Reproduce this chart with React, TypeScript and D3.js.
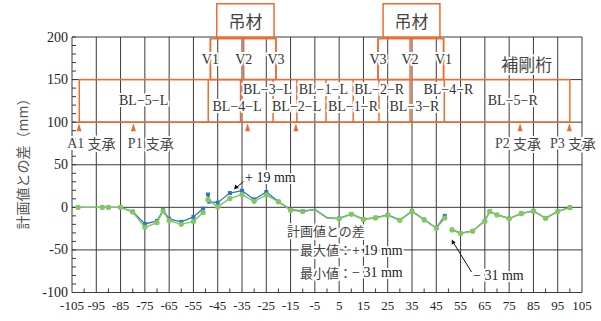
import * as d3 from 'd3';

// stations along bridge axis (m) and deviation from plan (mm)
const stations = [-102.5, -92.5, -90, -85, -80, -75, -70, -67.5, -65, -60, -55, -51,
  -49, -48.5, -45, -40, -35, -30, -25, -20, -15, -10, -5, 0, 5, 10, 15, 20, 25, 30, 35, 40, 45, 48.5,
  51.5, 55, 60, 65, 67, 70, 75, 80, 85, 90, 95, 100];
const greenVals = [0, 0, 0, 0, -5.5, -23.5, -18, -4.5, -15.5, -20, -16.5, -6,
  9, null, 0.5, 10.5, 15, 7, 14.5, 6.5, -3.5, -5, -3, -12.5, -13.5, -8.2, -14.2, -12.5, -9.3, -15.2, -5, -14.8, -24.7, -12.5,
  -26.5, -30.7, -28, -16.2, -5, -9, -13.4, -7.4, -4.5, -12.9, -5, -0.4];
const blueVals = [0, 0, 0, 0, -5, -19.5, -16, -3.3, -13.5, -17, -11.3, -1.5,
  15, 6.7, 5.5, 16.8, 19.5, 9.3, 18, 6.7, -2.5, -4.5, -2.5, -12, -13, -7.8, -13.8, -12, -8.8, -14.8, -4.5, -14.3, -24.2, -10,
  -26.2, -30.4, -27.7, -15.9, -4.7, -8.7, -13.1, -7.1, -4.2, -12.6, -4.7, -0.1];
const segmentBreaks = [-50, 50];
const noMarker = [-5, 0];

const xTicks = [-105, -95, -85, -75, -65, -55, -45, -35, -25, -15, -5, 5, 15, 25, 35, 45, 55, 65, 75, 85, 95, 105];
const yTicks = [200, 150, 100, 50, 0, -50, -100];

// structure diagram (orange)
const hangerBoxes = [[-45.4, -21.8], [23.1, 46.5]];
const vLines = [-48, -34.3, -21, 21, 34.2, 48];
const vLabels = ['V1', 'V2', 'V3', 'V3', 'V2', 'V1'];
const bandEnds = [-102, 100];
const dividers = [-48.9, -35.6, -22.2, -12.4, -0.4, 10.8, 21.4, 34.2, 48.3];
const blNames = ['BL-5-L', 'BL-4-L', 'BL-3-L', 'BL-2-L', 'BL-1-L', 'BL-1-R', 'BL-2-R', 'BL-3-R', 'BL-4-R', 'BL-5-R'];
const blCenters = [-75.5, -37, -24.5, -12.5, -1.5, 10.7, 21.5, 36, 50, 76.5];
const blLevels = [125, 118, 138, 118, 138, 118, 138, 118, 138, 125];
const supportX = [-102.1, -79.7, -32.7, -12.8, 79.5, 99.8];
const supportNames = ['A1 支承', 'P1 支承', 'P2 支承', 'P3 支承'];
const supportLabelX = [-107, -82, 69.2, 91.8];

const ORANGE = '#ef6b2e';
const GREEN = '#82c85a';
const BLUE = '#2f76c4';
const GRID = '#3a3a3a';
const NUM_FONT = '"Liberation Serif", "DejaVu Serif", serif';
const JP_FONT = '"Noto Sans CJK JP", sans-serif';

export default function App() {
  const width = 601;
  const height = 321;
  const x = d3.scaleLinear().domain([-105, 105]).range([72, 582]);
  const y = d3.scaleLinear().domain([-100, 200]).range([292.5, 37]);

  const seg = (s: number) => (s < segmentBreaks[0] ? 0 : s < segmentBreaks[1] ? 1 : 2);
  const series = (vals: (number | null)[]) =>
    [0, 1, 2].map(k =>
      stations
        .map((s, i) => ({ s, v: vals[i] }))
        .filter(d => d.v !== null && seg(d.s) === k) as { s: number; v: number }[]
    );
  const line = d3.line<{ s: number; v: number }>().x(d => x(d.s)).y(d => y(d.v));
  const blueSegs = series(blueVals);
  const greenSegs = series(greenVals);

  const halo = { stroke: '#fff', strokeWidth: 4, paintOrder: 'stroke' as const, strokeLinejoin: 'round' as const };

  return (
    <svg width={width} height={height} style={{ position: 'absolute', left: 0, top: 0, background: '#fff' }}>
      {/* grid */}
      {xTicks.map(t => (
        <line key={'vx' + t} x1={x(t)} x2={x(t)} y1={y(200)} y2={y(-100)} stroke={GRID} strokeWidth={1} />
      ))}
      {yTicks.map(t => (
        <line key={'hy' + t} x1={x(-105)} x2={x(105)} y1={y(t)} y2={y(t)} stroke={GRID} strokeWidth={1} />
      ))}
      {d3.range(-100, 201, 10).map(t => (
        <line key={'my' + t} x1={x(-105)} x2={x(-105) + 4} y1={y(t)} y2={y(t)} stroke={GRID} />
      ))}
      {d3.range(-100, 101, 10).map(t => (
        <line key={'mx' + t} x1={x(t)} x2={x(t)} y1={y(-100)} y2={y(-100) - 4} stroke={GRID} />
      ))}

      {/* tick labels */}
      {yTicks.map(t => (
        <text key={'ly' + t} x={x(-105) - 4} y={y(t)} textAnchor="end" dominantBaseline="central"
          fontFamily={NUM_FONT} fontSize={14} fill="#222">{t}</text>
      ))}
      {xTicks.map(t => (
        <text key={'lx' + t} x={x(t)} y={y(-100) + 17} textAnchor="middle"
          fontFamily={NUM_FONT} fontSize={13} fill="#222">{t}</text>
      ))}
      <text transform={`translate(22,${y(55)}) rotate(-90)`} textAnchor="middle" dominantBaseline="central"
        fontFamily={JP_FONT} fontSize={14} fill="#555">計画値との差（mm）</text>

      {/* hanger boxes */}
      {hangerBoxes.map(([a, b], i) => (
        <g key={'hb' + i}>
          <rect x={x(a)} y={y(239)} width={x(b) - x(a)} height={y(200) - y(239)} fill="#fff" stroke={ORANGE} strokeWidth={1.5} />
          <text x={(x(a) + x(b)) / 2} y={(y(239) + y(200)) / 2} textAnchor="middle" dominantBaseline="central"
            fontFamily={JP_FONT} fontSize={17} fill="#444">吊材</text>
        </g>
      ))}
      {[[0, 2], [3, 5]].map(([a, b], i) => (
        <rect key={'vr' + i} x={x(vLines[a])} y={y(198)} width={x(vLines[b]) - x(vLines[a])} height={y(150) - y(198)}
          fill="none" stroke={ORANGE} strokeWidth={1.5} />
      ))}
      {vLines.map((v, i) => (
        <line key={'vl' + i} x1={x(v)} x2={x(v)} y1={y(198)} y2={y(150)} stroke={ORANGE} strokeWidth={1.5} />
      ))}
      {vLines.map((v, i) => (
        <text key={'vt' + i} x={x(v)} y={y(174)} textAnchor="middle" dominantBaseline="central"
          fontFamily={NUM_FONT} fontSize={14} fill="#333" {...halo}>{vLabels[i]}</text>
      ))}

      {/* girder blocks */}
      <rect x={x(bandEnds[0])} y={y(150)} width={x(bandEnds[1]) - x(bandEnds[0])} height={y(100) - y(150)}
        fill="none" stroke={ORANGE} strokeWidth={1.5} />
      {dividers.map((d, i) => (
        <line key={'dv' + i} x1={x(d)} x2={x(d)} y1={y(150)} y2={y(100)} stroke={ORANGE} strokeWidth={1.5} />
      ))}
      {blNames.map((n, i) => (
        <text key={'bl' + i} x={x(blCenters[i])} y={y(blLevels[i])} textAnchor="middle" dominantBaseline="central"
          fontFamily={NUM_FONT} fontSize={14} fill="#333" {...halo}>{n.replace(/-/g, '−')}</text>
      ))}
      <text x={x(82.3)} y={y(169)} textAnchor="middle" dominantBaseline="central"
        fontFamily={JP_FONT} fontSize={17} fill="#444" {...halo}>補剛桁</text>

      {/* supports */}
      {supportX.map((s, i) => (
        <path key={'sp' + i} d={`M${x(s)},${y(100) + 1}L${x(s) + 2.5},${y(100) + 9}L${x(s) - 2.5},${y(100) + 9}Z`} fill={ORANGE} />
      ))}
      {supportNames.map((n, i) => (
        <text key={'sn' + i} x={x(supportLabelX[i])} y={y(75)} dominantBaseline="central"
          fontFamily={JP_FONT} fontSize={14} fill="#444" {...halo}>
          <tspan fontFamily={NUM_FONT}>{n.split(' ')[0]}</tspan> {n.split(' ')[1]}
        </text>
      ))}

      {/* data */}
      {blueSegs.map((sg, k) => (
        <path key={'bp' + k} d={line(sg) || ''} fill="none" stroke={BLUE} strokeWidth={1.3} />
      ))}
      {blueSegs.flat().filter(d => !noMarker.includes(d.s)).map((d, i) => (
        <rect key={'bm' + i} x={x(d.s) - 2} y={y(d.v) - 2} width={4} height={4} fill={BLUE} />
      ))}
      {greenSegs.map((sg, k) => (
        <path key={'gp' + k} d={line(sg) || ''} fill="none" stroke={GREEN} strokeWidth={1.4} />
      ))}
      {greenSegs.flat().filter(d => !noMarker.includes(d.s)).map((d, i) => (
        <circle key={'gm' + i} cx={x(d.s)} cy={y(d.v)} r={2.6} fill={GREEN} />
      ))}

      {/* annotations */}
      <line x1={243.5} y1={181.5} x2={236} y2={188} stroke="#111" strokeWidth={1} />
      <path d="M234,189.5L235.2,184.6L238.8,187.8Z" fill="#111" />
      <text x={245} y={177} dominantBaseline="central" fontFamily={NUM_FONT} fontSize={14} fill="#222" {...halo}>+ 19 mm</text>

      <line x1={471.5} y1={272} x2={453} y2={242} stroke="#111" strokeWidth={1} />
      <path d="M451.7,239.5L455.6,242.6L451.8,244.8Z" fill="#111" />
      <text x={473} y={275} dominantBaseline="central" fontFamily={NUM_FONT} fontSize={14} fill="#222" {...halo}>− 31 mm</text>

      <g fontSize={13} fill="#444" dominantBaseline="central">
        <text x={287} y={230} fontFamily={JP_FONT} {...halo}>計画値との差</text>
        <text x={300} y={y(-50)} fontFamily={JP_FONT} {...halo}>最大値：<tspan fontFamily={NUM_FONT} fontSize={14} fill="#222">+ 19 mm</tspan></text>
        <text x={300} y={272} fontFamily={JP_FONT} {...halo}>最小値：<tspan fontFamily={NUM_FONT} fontSize={14} fill="#222">− 31 mm</tspan></text>
      </g>
    </svg>
  );
}
